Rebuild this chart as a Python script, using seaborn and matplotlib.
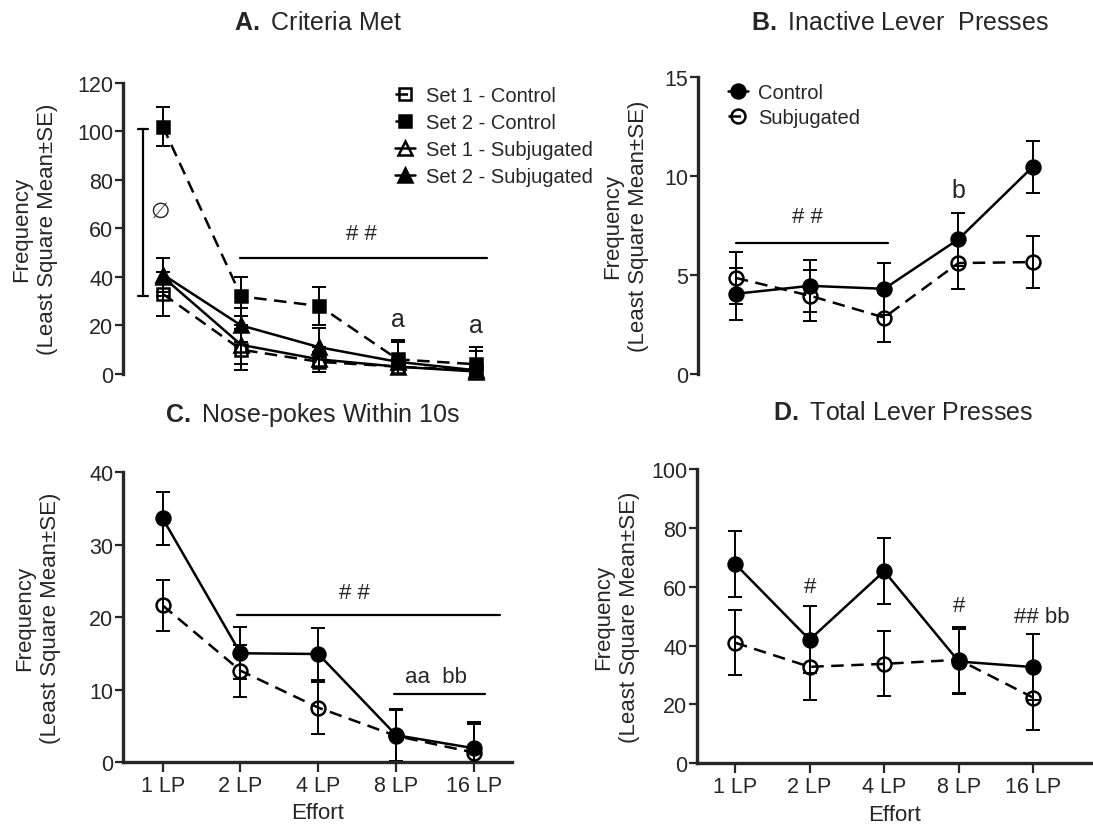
import numpy as np
import pandas as pd
import matplotlib
matplotlib.use("Agg")
import matplotlib.pyplot as plt
import seaborn as sns

sns.set_style("ticks")
plt.rcParams['font.family'] = ['Liberation Sans', 'DejaVu Sans']
plt.rcParams['mathtext.fontset'] = 'custom'
plt.rcParams['mathtext.bf'] = 'Liberation Sans:bold'
plt.rcParams['mathtext.rm'] = 'Liberation Sans'

# effort levels (x axis)
effort = ['1 LP', '2 LP', '4 LP', '8 LP', '16 LP']

# A. Criteria Met
a_set1_ctrl = [33, 10, 5, 3, 1.5]
a_set1_ctrl_se = [9, 8.5, 4, 3, 2]
a_set2_ctrl = [102, 32, 28, 6, 4]
a_set2_ctrl_se = [8, 8, 8, 8, 7]
a_set1_subj = [40, 12, 6, 3, 1]
a_set1_subj_se = [8, 8, 5, 3, 2]
a_set2_subj = [41, 20, 11, 5, 1.5]
a_set2_subj_se = [7, 7, 8, 8, 8]

# B. Inactive Lever Presses
b_ctrl = [4.05, 4.45, 4.3, 6.8, 10.45]
b_ctrl_se = [1.3, 1.3, 1.3, 1.35, 1.3]
b_subj = [4.85, 3.95, 2.85, 5.6, 5.65]
b_subj_se = [1.3, 1.3, 1.25, 1.3, 1.3]

# C. Nose-pokes Within 10s
c_ctrl = [33.6, 15.0, 14.9, 3.7, 1.9]
c_ctrl_se = [3.6, 3.6, 3.6, 3.6, 3.6]
c_subj = [21.6, 12.6, 7.5, 3.6, 1.3]
c_subj_se = [3.5, 3.6, 3.6, 3.6, 3.9]

# D. Total Lever Presses
d_ctrl = [67.8, 42.0, 65.3, 34.6, 32.7]
d_ctrl_se = [11.2, 11.4, 11.1, 11.2, 11.1]
d_subj = [41.0, 32.8, 33.8, 35.2, 22.3]
d_subj_se = [11.1, 11.3, 11.0, 11.2, 11.1]

pos = np.arange(len(effort))
DASH = (0, (5, 3))
LW = 1.8
TICK_FS = 15.5
LAB_FS = 16
ANN_FS = 16


def series(ax, mean, se, marker, filled, dashed, label=None, ms=10):
    df = pd.DataFrame({'x': pos, 'y': mean})
    sns.lineplot(data=df, x='x', y='y', ax=ax, color='black', lw=LW,
                 linestyle=DASH if dashed else '-', marker=marker, markersize=ms,
                 markerfacecolor='black' if filled else 'none',
                 markeredgecolor='black', markeredgewidth=1.8,
                 label=label, clip_on=False, zorder=3)
    # error bars stop at zero
    lower = np.minimum(se, mean)
    ax.errorbar(pos, mean, yerr=[lower, se], fmt='none', ecolor='black',
                elinewidth=1.4, capsize=5, capthick=1.4, clip_on=False, zorder=2)


def style_axes(ax, ylim, yticks, xlim, show_x):
    ax.set_xlim(*xlim)
    ax.set_ylim(*ylim)
    ax.set_yticks(yticks)
    ax.set_ylabel('Frequency\n(Least Square Mean\u00b1SE)', fontsize=LAB_FS,
                  linespacing=1.3, va='center')
    sns.despine(ax=ax, bottom=not show_x)
    ax.spines['left'].set_linewidth(2.4)
    ax.spines['bottom'].set_linewidth(2.4)
    ax.tick_params(axis='y', direction='out', length=6, width=1.6,
                   labelsize=TICK_FS, pad=1)
    if show_x:
        ax.set_xticks(pos)
        ax.set_xticklabels(effort)
        ax.tick_params(axis='x', direction='out', length=7, width=1.6,
                       labelsize=TICK_FS, pad=2)
        ax.set_xlabel('Effort', fontsize=LAB_FS, labelpad=5)
    else:
        ax.set_xticks([])
        ax.set_xlabel('')


fig = plt.figure(figsize=(10.93, 8.29), dpi=100)
axA = fig.add_axes([0.1125, 0.5477, 0.356, 0.351])
axB = fig.add_axes([0.6386, 0.5477, 0.340, 0.3583])
axC = fig.add_axes([0.1125, 0.0796, 0.356, 0.3498])
axD = fig.add_axes([0.6377, 0.0780, 0.3623, 0.355])

# ---- A
series(axA, a_set1_ctrl, a_set1_ctrl_se, 's', False, True, 'Set 1 - Control', ms=9)
series(axA, a_set2_ctrl, a_set2_ctrl_se, 's', True, True, 'Set 2 - Control', ms=9)
series(axA, a_set1_subj, a_set1_subj_se, '^', False, False, 'Set 1 - Subjugated', ms=10)
series(axA, a_set2_subj, a_set2_subj_se, '^', True, False, 'Set 2 - Subjugated', ms=10)
style_axes(axA, (0, 120), range(0, 121, 20), (-0.51, 4.46), False)
axA.yaxis.set_label_coords(-0.226, 0.5)
axA.legend(loc='upper left', bbox_to_anchor=(0.70, 0.99), frameon=False,
           handlelength=1.0, handletextpad=0.5, labelspacing=0.4,
           borderpad=0, borderaxespad=0, fontsize=14.5)
axA.plot([-0.256, -0.256], [32, 101], color='black', lw=1.6, clip_on=False)
for yy in (32, 101):
    axA.plot([-0.32, -0.19], [yy, yy], color='black', lw=1.6, clip_on=False)
axA.text(-0.04, 67, '\u2205', fontsize=ANN_FS, ha='center', va='center')
axA.plot([0.98, 4.14], [48, 48], color='black', lw=1.6)
axA.text(2.54, 58, '# #', fontsize=ANN_FS, ha='center', va='center')
axA.text(3, 22.5, 'a', fontsize=ANN_FS + 2, ha='center', va='center')
axA.text(4, 20, 'a', fontsize=ANN_FS + 2, ha='center', va='center')
axA.text(0.5, 1.21, r'$\mathbf{A.}$ Criteria Met', transform=axA.transAxes,
         fontsize=18, ha='center', va='center')

# ---- B
series(axB, b_ctrl, b_ctrl_se, 'o', True, False, 'Control')
series(axB, b_subj, b_subj_se, 'o', False, True, 'Subjugated')
style_axes(axB, (0, 15), [0, 5, 10, 15], (-0.51, 4.5), False)
axB.yaxis.set_label_coords(-0.196, 0.5)
axB.legend(loc='upper left', bbox_to_anchor=(0.08, 0.98), frameon=False,
           handlelength=1.0, handletextpad=0.5, labelspacing=0.3,
           borderpad=0, borderaxespad=0, fontsize=14.5)
axB.plot([0, 2.05], [6.6, 6.6], color='black', lw=1.6)
axB.text(0.97, 7.95, '# #', fontsize=ANN_FS, ha='center', va='center')
axB.text(3, 9.3, 'b', fontsize=ANN_FS + 2, ha='center', va='center')
axB.text(0.543, 1.185, r'$\mathbf{B.}$ Inactive Lever  Presses', transform=axB.transAxes,
         fontsize=18, ha='center', va='center')

# ---- C
series(axC, c_ctrl, c_ctrl_se, 'o', True, False)
series(axC, c_subj, c_subj_se, 'o', False, True)
style_axes(axC, (0, 40), range(0, 41, 10), (-0.51, 4.49), True)
axC.yaxis.set_label_coords(-0.22, 0.5)
axC.plot([0.96, 4.33], [20.3, 20.3], color='black', lw=1.6)
axC.text(2.46, 23.4, '# #', fontsize=ANN_FS, ha='center', va='center')
axC.plot([2.97, 4.14], [9.4, 9.4], color='black', lw=1.6)
axC.text(3.51, 11.8, 'aa  bb', fontsize=ANN_FS, ha='center', va='center')
axC.text(0.486, 1.2, r'$\mathbf{C.}$ Nose-pokes Within 10s', transform=axC.transAxes,
         fontsize=18, ha='center', va='center')

# ---- D
series(axD, d_ctrl, d_ctrl_se, 'o', True, False)
series(axD, d_subj, d_subj_se, 'o', False, True)
style_axes(axD, (0, 100), range(0, 101, 20), (-0.51, 4.8), True)
axD.yaxis.set_label_coords(-0.202, 0.5)
axD.text(1, 60, '#', fontsize=ANN_FS, ha='center', va='center')
axD.text(3, 53.5, '#', fontsize=ANN_FS, ha='center', va='center')
axD.text(4.12, 50, '## bb', fontsize=ANN_FS, ha='center', va='center')
axD.text(0.52, 1.193, r'$\mathbf{D.}$ Total Lever Presses', transform=axD.transAxes,
         fontsize=18, ha='center', va='center')

fig.savefig('out.png', dpi=100)
